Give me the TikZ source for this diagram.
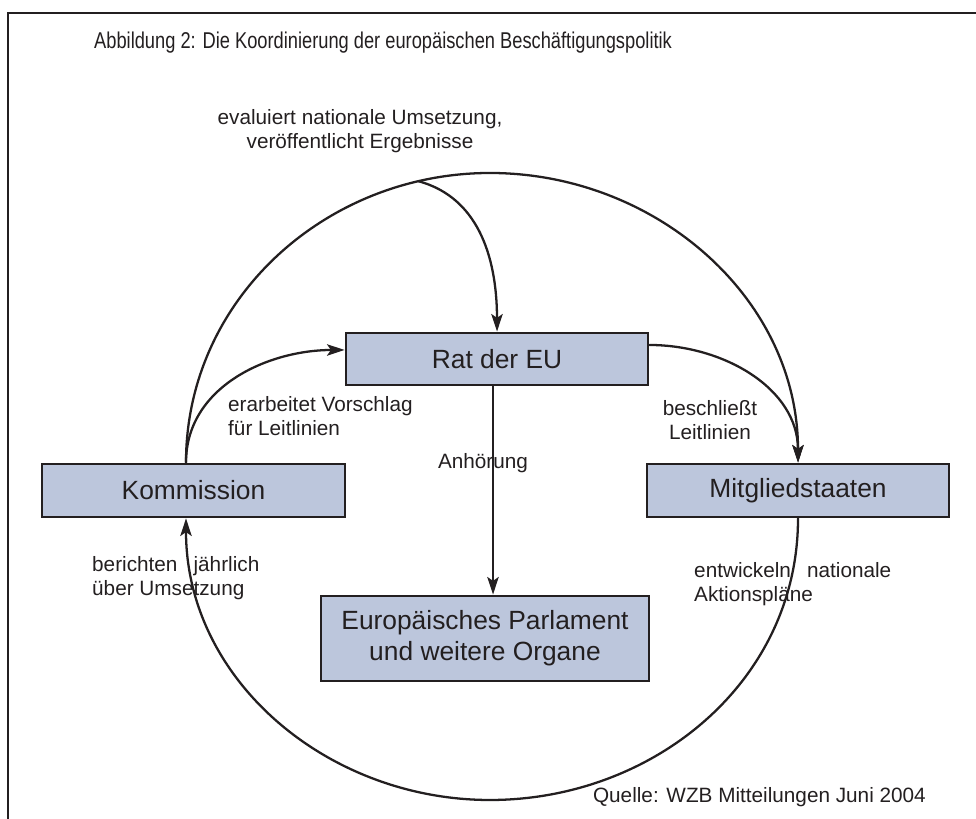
\documentclass[tikz,border=0pt]{standalone}
\usepackage{fontspec}
\setmainfont{Liberation Sans}
\newfontfamily\schmal[FakeStretch=0.8]{Liberation Sans}
\usetikzlibrary{arrows.meta}
\definecolor{kasten}{HTML}{BCC6DC}
\definecolor{linie}{HTML}{231F20}

\begin{document}
\begin{tikzpicture}[line cap=round, >={Stealth[length=10pt,width=6.5pt,inset=2.2pt]},
  every node/.style={font=\fontsize{11.8}{13.6}\selectfont, text=linie},
  organ/.style={draw=linie, line width=1.6pt, fill=kasten, inner sep=0pt,
    font=\fontsize{15}{17.6}\selectfont, align=center},
  pfeil/.style={->, draw=linie, line width=1.3pt}]

% page and frame
\useasboundingbox (0,0) rectangle (19.52,16.38);
\draw[linie, line width=1.5pt] (0.16,0) |- (19.52,16.12);
\node[anchor=west, font={\schmal\fontsize{13}{15}\selectfont}] (titel) at (1.76,15.52)
  {Abbildung 2: Die Koordinierung der europäischen Beschäftigungspolitik};

% the four bodies
\node[organ, minimum width=6.04cm, minimum height=1.04cm] (rat) at (9.94,9.2) {Rat der EU};
\node[organ, minimum width=6.06cm, minimum height=1.06cm] (kom) at (3.87,6.57) {Kommission};
\node[organ, minimum width=6.04cm, minimum height=1.06cm] (mit) at (15.96,6.57) {Mitgliedstaaten};
\node[organ, minimum width=6.56cm, minimum height=1.7cm] (parl) at (9.7,3.61)
  {Europäisches Parlament\\und weitere Organe};

% the big cycle: over the top, and back underneath
\coordinate (gipfel) at (9.8,12.92);
\coordinate (tal) at (9.8,0.38);
\draw[pfeil] ([xshift=-0.15cm]kom.north) to[out=90,in=180] coordinate[pos=0.85] (abzweig) (gipfel)
  to[out=0,in=90] (mit.north);
\draw[pfeil] (abzweig) to[out=-15,in=90] (rat.north);
\draw[pfeil] (mit.south) to[out=-90,in=0] (tal) to[out=180,in=-90] ([xshift=-0.15cm]kom.south);

% the short steps
\draw[pfeil] ([xshift=-0.15cm]kom.north) to[out=90,in=180] ([yshift=0.18cm]rat.west);
\draw[pfeil] ([yshift=0.28cm]rat.east) to[out=0,in=90] (mit.north);
\draw[pfeil] ([xshift=-0.08cm]rat.south) -- ([xshift=-0.08cm]rat.south |- parl.north);

% labels
\node[align=center] (evaluiert) at (7.2,13.75) {evaluiert nationale Umsetzung,\\veröffentlicht Ergebnisse};
\node[anchor=west, align=left] (vorschlag) at (4.44,8.06) {erarbeitet Vorschlag\\für Leitlinien};
\node[align=center] (beschluss) at (14.2,7.98) {beschließt\\Leitlinien};
\node (anhoerung) at (9.66,7.12) {Anhörung};
\node[anchor=west, align=left] (bericht) at (1.72,4.82) {berichten\hspace{0.5em} jährlich\\über Umsetzung};
\node[anchor=west, align=left] (aktion) at (13.76,4.7) {entwickeln\hspace{0.5em} nationale\\Aktionspläne};
\node[anchor=east] (quelle) at (18.64,0.44) {Quelle: WZB Mitteilungen Juni 2004};

\end{tikzpicture}
\end{document}
